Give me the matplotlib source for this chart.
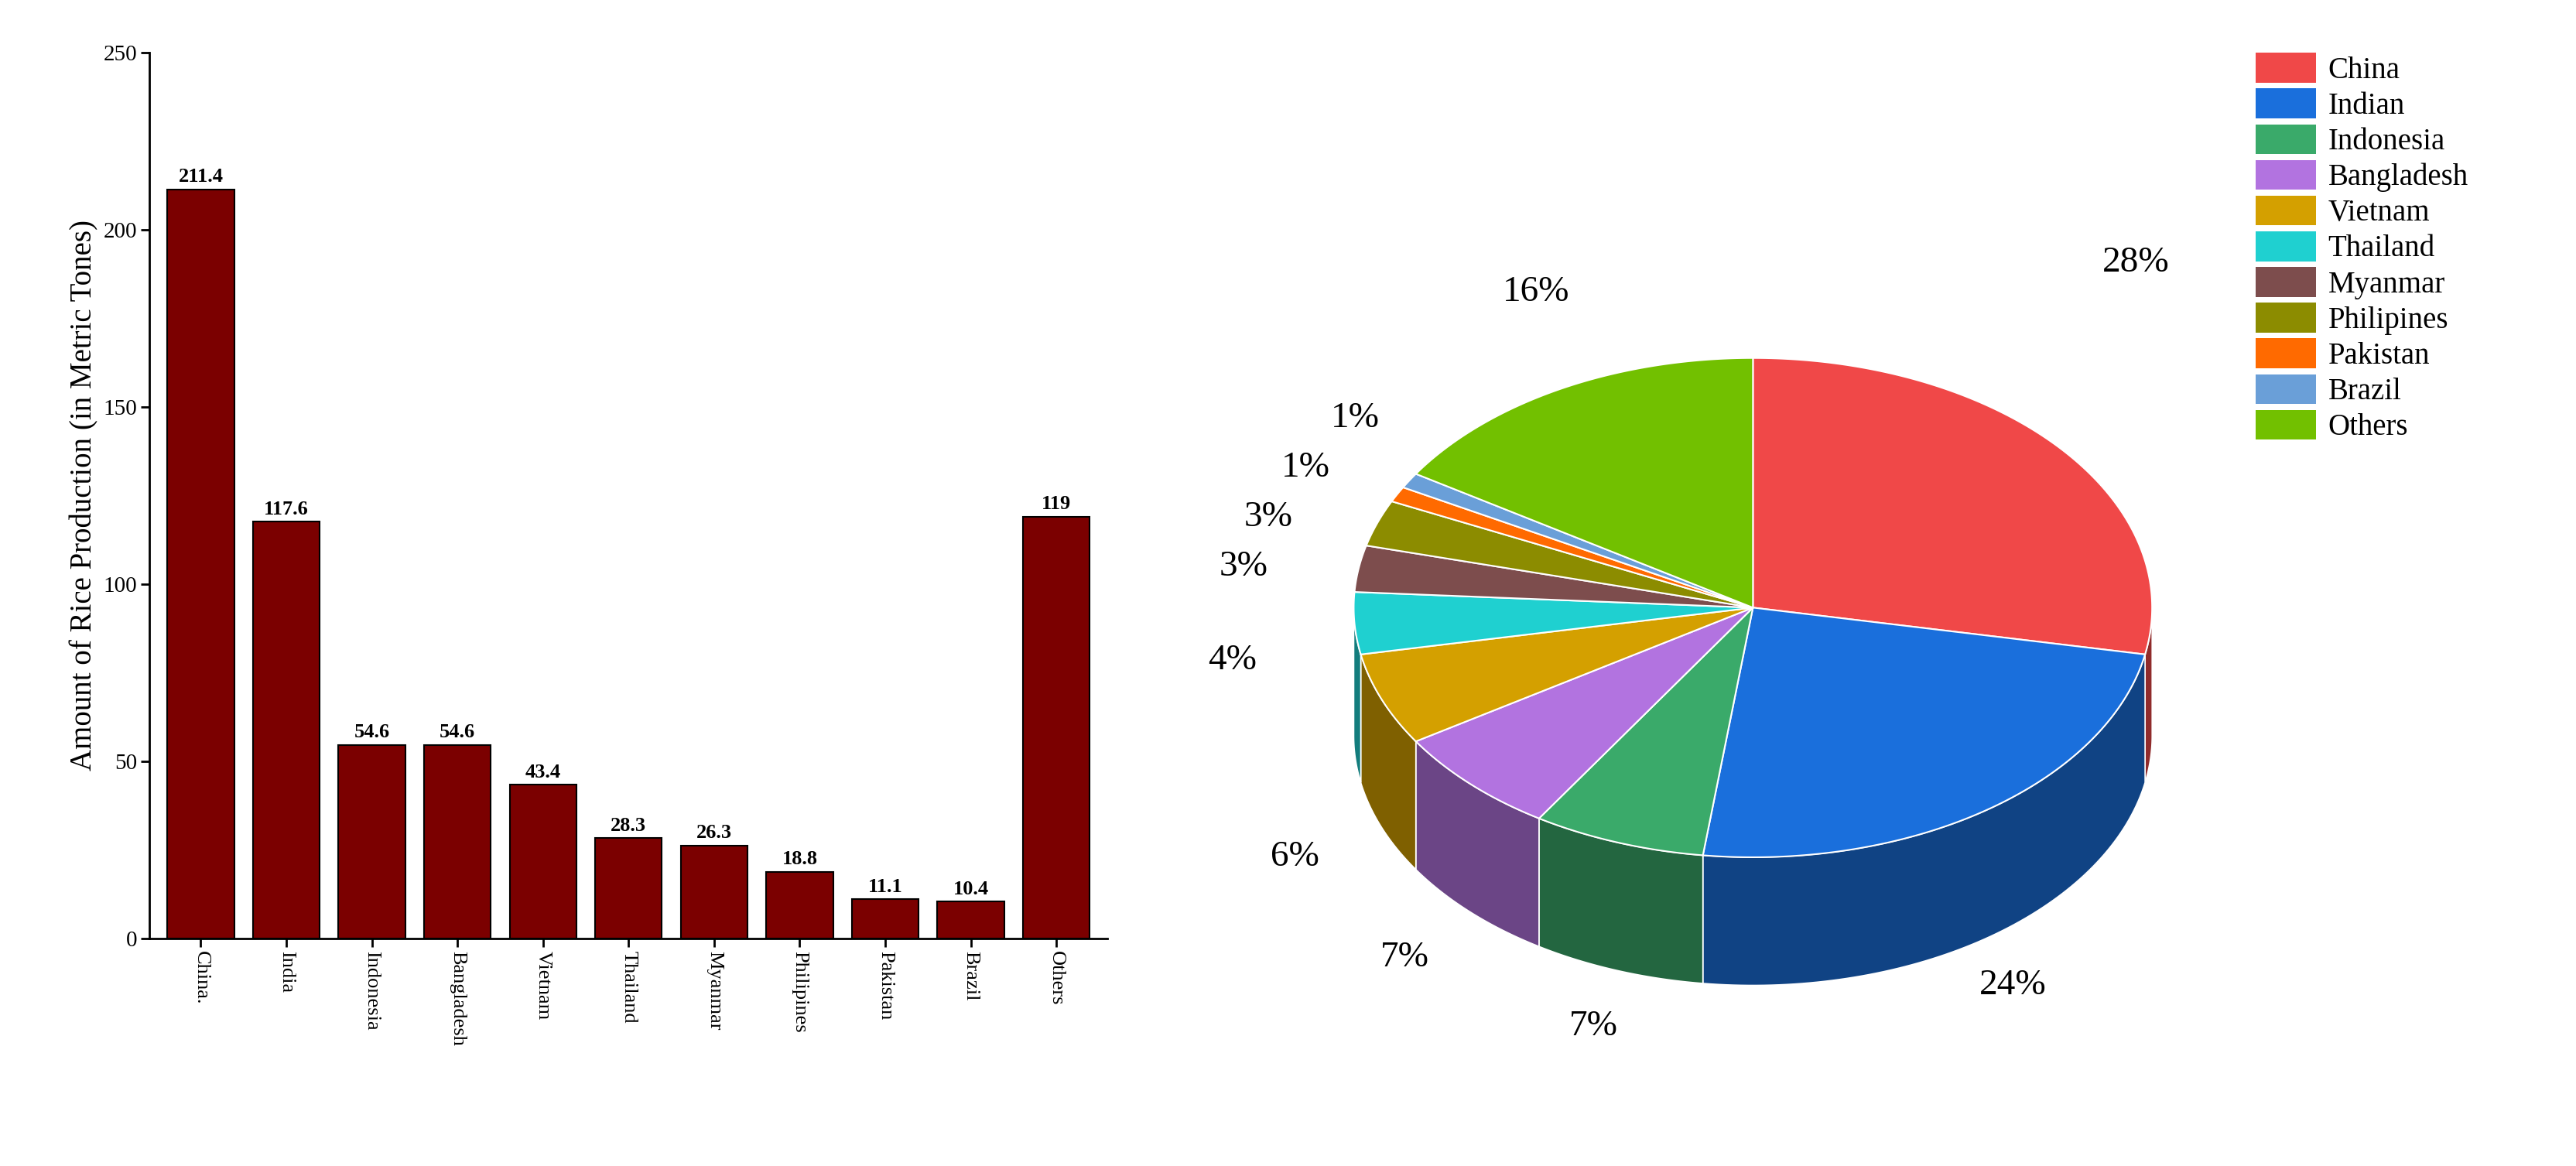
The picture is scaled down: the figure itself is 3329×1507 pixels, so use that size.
import numpy as np
import matplotlib.pyplot as plt
from matplotlib.patches import Polygon, Patch
from matplotlib.colors import to_rgb

plt.rcParams['font.family'] = ['Liberation Serif', 'DejaVu Serif']

bar_labels = ["China.", "India", "Indonesia", "Bangladesh", "Vietnam", "Thailand",
              "Myanmar", "Philipines", "Pakistan", "Brazil", "Others"]
bar_values = [211.4, 117.6, 54.6, 54.6, 43.4, 28.3, 26.3, 18.8, 11.1, 10.4, 119]
bar_value_text = ["211.4", "117.6", "54.6", "54.6", "43.4", "28.3", "26.3", "18.8", "11.1", "10.4", "119"]

pie_labels = ["China", "Indian", "Indonesia", "Bangladesh", "Vietnam", "Thailand",
              "Myanmar", "Philipines", "Pakistan", "Brazil", "Others"]
pie_pct = [28, 24, 7, 7, 6, 4, 3, 3, 1, 1, 16]
pie_colors = ["#f04848", "#1a6fdc", "#3aaa6a", "#b273e0", "#d4a000", "#1fd0d0",
              "#7d4d4d", "#8c8c00", "#ff6a00", "#6a9fd8", "#72c000"]

fig = plt.figure(figsize=(33.29, 15.07), dpi=100)

# ---- bar chart
ax = fig.add_axes([0.058, 0.195, 0.372, 0.76])
x = np.arange(len(bar_values))
ax.bar(x, bar_values, width=0.78, color="#7b0000", edgecolor="black", linewidth=1.5)
for xi, v, t in zip(x, bar_values, bar_value_text):
    ax.text(xi, v + 1, t, ha="center", va="bottom", fontsize=19, fontweight="bold")
ax.set_xlim(-0.6, len(bar_values) - 0.4)
ax.set_ylim(0, 250)
ax.set_yticks([0, 50, 100, 150, 200, 250])
ax.set_xticks(x)
ax.set_xticklabels(bar_labels, rotation=270, fontsize=19)
ax.tick_params(axis="y", labelsize=21, width=2, length=8)
ax.tick_params(axis="x", width=2, length=8)
ax.set_ylabel("Amount of Rice Production (in Metric Tones)", fontsize=28)
for s in ["top", "right"]:
    ax.spines[s].set_visible(False)
for s in ["left", "bottom"]:
    ax.spines[s].set_linewidth(2)

# ---- 3D-looking pie (overlay in display-like units)
pa = fig.add_axes([0, 0, 1, 1])
pa.set_xlim(0, 1568)
pa.set_ylim(710, 0)
pa.axis("off")
cx, cy, rx, ry, depth = 1067, 370, 243, 152, 78

starts = 90 - 360 * np.cumsum([0] + pie_pct[:-1]) / 100
ends = starts - 360 * np.array(pie_pct) / 100

# side walls (front half only)
for a1, a2, c in zip(starts, ends, pie_colors):
    lo, hi = max(a2, -180), min(a1, 0)
    if hi <= lo:
        continue
    t = np.radians(np.linspace(hi, lo, 80))
    top = np.column_stack([cx + rx * np.cos(t), cy - ry * np.sin(t)])
    bot = top[::-1] + [0, depth]
    dark = tuple(np.array(to_rgb(c)) * 0.6)
    pa.add_patch(Polygon(np.vstack([top, bot]), closed=True, facecolor=dark,
                         edgecolor="white", linewidth=1.2))
# tops
for a1, a2, c in zip(starts, ends, pie_colors):
    t = np.radians(np.linspace(a1, a2, 120))
    pts = np.column_stack([cx + rx * np.cos(t), cy - ry * np.sin(t)])
    pts = np.vstack([[cx, cy], pts])
    pa.add_patch(Polygon(pts, closed=True, facecolor=c, edgecolor="white", linewidth=1.5))

# percentage labels
label_pos = [(1300, 160), (1225, 600), (970, 625), (855, 583), (788, 522), (750, 402),
             (757, 345), (772, 315), (795, 285), (825, 255), (935, 178)]
for (lx, ly), p in zip(label_pos, pie_pct):
    pa.text(lx, ly, f"{p}%", ha="center", va="center", fontsize=34)

handles = [Patch(facecolor=c, edgecolor="none") for c in pie_colors]
fig.legend(handles, pie_labels, loc="upper left", bbox_to_anchor=(0.871, 0.965),
           frameon=False, fontsize=28, handlelength=2.0, handleheight=1.15,
           labelspacing=0.12, handletextpad=0.4, borderaxespad=0)

fig.savefig("out.png", dpi=100)
